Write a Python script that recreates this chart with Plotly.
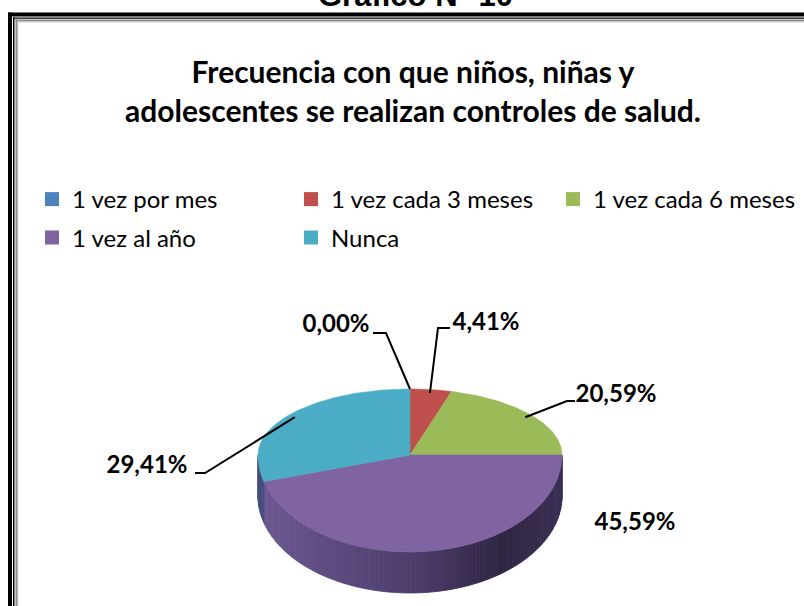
import math
import plotly.graph_objects as go

# ---------------- data ----------------
categories = ["1 vez por mes", "1 vez cada 3 meses", "1 vez cada 6 meses", "1 vez al año", "Nunca"]
values = [0.00, 4.41, 20.59, 45.59, 29.41]
label_texts = [f"{v:.2f}".replace(".", ",") + "%" for v in values]

title_text = "Frecuencia con que niños, niñas y<br>adolescentes se realizan controles de salud."
header_text = "Gráfico N° 10"

# ---------------- style / layout ----------------
colors = ["#4F81BD", "#C0504D", "#9BBB59", "#8064A2", "#4BACC6"]
legend_of = ["legend", "legend", "legend3", "legend2", "legend2"]
wall_dark = {3: [(0.0, (108, 88, 145)), (0.5, (78, 62, 108)), (0.8, (47, 37, 67)), (1.0, (58, 46, 82))],
             4: [(0.0, (70, 78, 125)), (1.0, (70, 78, 125))]}

W, H = 804, 606
CX, CY = 410, 455
RX, RY_TOP, RY_BOT = 152, 66, 97
DEPTH = 41

label_xy = [(336, 326), (486, 324), (616, 396), (635, 524), (147, 467)]
leader_start = [(373, 333), (450, 328), (575, 401), None, (195, 473)]
leader_elbow = [(386, 333), (438, 328), (567, 401), None, (205, 473)]

FONT = "Lato"


def pt(theta_deg, f=1.0):
    t = math.radians(theta_deg)
    c = math.cos(t)
    ry = RY_TOP if c > 0 else RY_BOT
    return CX + f * RX * math.sin(t), CY - f * ry * c


def interp(stops, t):
    t = max(0.0, min(1.0, t))
    for (t0, c0), (t1, c1) in zip(stops[:-1], stops[1:]):
        if t0 <= t <= t1:
            u = (t - t0) / (t1 - t0) if t1 > t0 else 0
            return "rgb(%d,%d,%d)" % tuple(round(a + (b - a) * u) for a, b in zip(c0, c1))
    return "rgb(%d,%d,%d)" % stops[-1][1]


total = sum(values)
starts, ends = [], []
acc = 0.0
for v in values:
    starts.append(360 * acc / total)
    acc += v
    ends.append(360 * acc / total)

fig = go.Figure()

# ---- side walls (front half only) ----
for i in range(len(values)):
    a0, a1 = max(starts[i], 90), min(ends[i], 270)
    if a1 <= a0:
        continue
    n = max(1, int(math.ceil((a1 - a0) / 1.5)))
    for k in range(n):
        s = a0 + (a1 - a0) * k / n
        e = a0 + (a1 - a0) * (k + 1) / n
        top = [pt(s + (e - s) * j / 3) for j in range(4)]
        xs = [p[0] for p in top] + [p[0] for p in reversed(top)]
        ys = [p[1] for p in top] + [p[1] + DEPTH for p in reversed(top)]
        xm = pt((s + e) / 2)[0]
        col = interp(wall_dark.get(i, [(0, (80, 80, 80)), (1, (80, 80, 80))]), (xm - (CX - RX)) / (2 * RX))
        fig.add_trace(go.Scatter(x=xs + [xs[0]], y=ys + [ys[0]], mode="lines", fill="toself",
                                 fillcolor=col, line=dict(color=col, width=0.8),
                                 hoverinfo="skip", showlegend=False))

# ---- top faces ----
for i in range(len(values)):
    if ends[i] - starts[i] <= 0:
        continue
    n = max(2, int(math.ceil(ends[i] - starts[i])))
    arc = [pt(starts[i] + (ends[i] - starts[i]) * j / n) for j in range(n + 1)]
    xs = [CX] + [p[0] for p in arc] + [CX]
    ys = [CY] + [p[1] for p in arc] + [CY]
    fig.add_trace(go.Scatter(x=xs, y=ys, mode="lines", fill="toself", fillcolor=colors[i],
                             line=dict(color=colors[i], width=0.6),
                             name=categories[i], hoverinfo="skip", showlegend=False))

# ---- leader lines ----
for i in range(len(values)):
    if leader_start[i] is None:
        continue
    mid = (starts[i] + ends[i]) / 2
    ax, ay = pt(mid, 0.95 if values[i] > 0 else 1.0)
    fig.add_trace(go.Scatter(x=[leader_start[i][0], leader_elbow[i][0], ax],
                             y=[leader_start[i][1], leader_elbow[i][1], ay],
                             mode="lines", line=dict(color="black", width=2),
                             hoverinfo="skip", showlegend=False))

# ---- data labels ----
fig.add_trace(go.Scatter(x=[p[0] for p in label_xy], y=[p[1] for p in label_xy], mode="text",
                         text=label_texts, textposition="middle center",
                         textfont=dict(family=FONT, size=24, color="black", weight="bold"),
                         hoverinfo="skip", showlegend=False))

# ---- legend entries ----
for i, c in enumerate(categories):
    fig.add_trace(go.Scatter(x=[None], y=[None], mode="markers", name=c,
                             marker=dict(symbol="square", size=14, color=colors[i]),
                             legend=legend_of[i]))

# ---- frame ----
shapes = []
def rect(x0, x1, y0, y1, color):
    shapes.append(dict(type="rect", xref="x", yref="y", x0=x0, x1=x1, y0=y0, y1=y1,
                       fillcolor=color, line=dict(width=0), layer="above"))
rect(8, 12, 12.5, H, "black"); rect(8, W, 12.5, 16.5, "black")
rect(13, 14.5, 17.5, H, "black"); rect(13, W, 17.5, 18.8, "black")
rect(15.5, 17, 19.5, H, "#8c8c8c"); rect(15.5, W, 19.5, 21, "#8c8c8c")
rect(17, 18.5, 21, H, "#c8c8c8"); rect(17, W, 21, 22.5, "#c8c8c8")

legend_common = dict(orientation="h", xanchor="left", yanchor="middle",
                     entrywidthmode="pixels", bgcolor="rgba(0,0,0,0)",
                     font=dict(family=FONT, size=24, color="black"))

fig.update_layout(
    width=W, height=H,
    margin=dict(l=0, r=0, t=0, b=0, autoexpand=False),
    paper_bgcolor="white", plot_bgcolor="white",
    xaxis=dict(range=[0, W], visible=False, fixedrange=True),
    yaxis=dict(range=[H, 0], visible=False, fixedrange=True),
    title=dict(text=title_text, x=413 / W, xanchor="center", y=1 - 83 / H, yanchor="middle",
               font=dict(family=FONT, size=30, color="black", weight="bold")),
    legend=dict(x=32 / W, y=1 - 199.5 / H, entrywidth=214, **legend_common),
    legend3=dict(x=553 / W, y=1 - 199.5 / H, entrywidth=0, **legend_common),
    legend2=dict(x=32 / W, y=1 - 238 / H, entrywidth=214, **legend_common),
    shapes=shapes,
    annotations=[dict(text=header_text, x=415, y=15, xref="x", yref="y", xanchor="center",
                      yanchor="bottom", showarrow=False,
                      font=dict(family="Liberation Sans", size=31, color="black", weight="bold"))],
)

fig.write_html("out.html", config={"displayModeBar": False},
               post_script="document.body.style.margin='0';")
